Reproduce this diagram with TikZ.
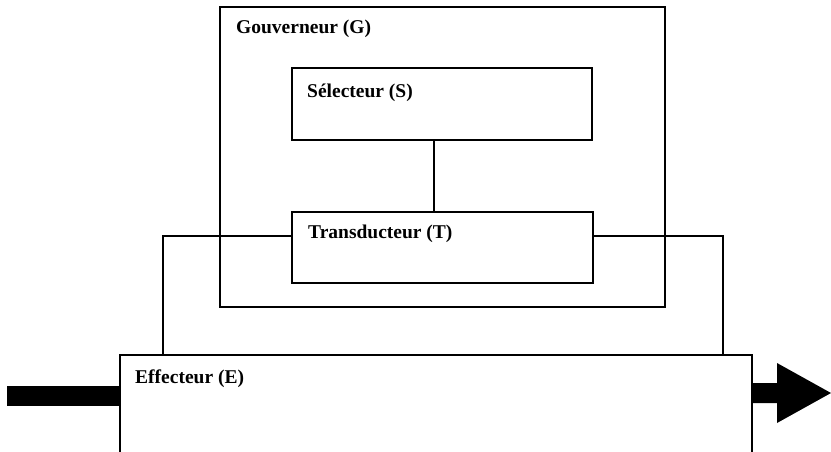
\documentclass[tikz,border=0pt]{standalone}
\usepackage{fontspec}
\setmainfont{Liberation Serif}
\begin{document}
\begin{tikzpicture}[x=1pt,y=-1pt,
  box/.style={draw,line width=1.4pt,inner sep=0pt,outer sep=0pt,anchor=north west},
  lbl/.style={anchor=base west,inner sep=0pt,font=\bfseries\fontsize{19.5}{22}\selectfont},
  conn/.style={line width=1.4pt}]
\clip (0,0) rectangle (831,451);
\node[box,minimum width=445pt,minimum height=300pt] (G) at (220,7) {};
\node[box,minimum width=300pt,minimum height=72pt] (S) at (292,68) {};
\node[box,minimum width=301pt,minimum height=71pt] (T) at (292,212) {};
\node[box,minimum width=632pt,minimum height=110pt] (E) at (120,355) {};
\node[lbl] (Gl) at (236,33) {Gouverneur (G)};
\node[lbl] (Sl) at (307,97) {Sélecteur (S)};
\node[lbl] (Tl) at (308,238) {Transducteur (T)};
\node[lbl] (El) at (135,383) {Effecteur (E)};
\coordinate (tl) at (163,236);
\coordinate (tr) at (723,236);
\draw[conn] (T.west |- tl) -- (tl) -- (tl |- E.north);
\draw[conn] (T.east |- tr) -- (tr) -- (tr |- E.north);
\draw[conn] ([xshift=-8pt]S.south) -- ([xshift=-8pt]S.south |- T.north);
\coordinate (in) at (7,396);
\draw[line width=20pt] (in) -- (in -| E.west);
\coordinate (out) at (831,393);
\coordinate (b1) at (777,383);
\coordinate (b2) at (777,403);
\fill (E.east |- b1) -- (b1) -- (777,363) -- (out) -- (777,423) -- (b2) -- (E.east |- b2) -- cycle;
\end{tikzpicture}
\end{document}
